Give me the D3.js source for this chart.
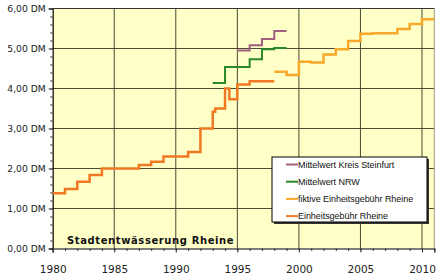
<!DOCTYPE html>
<html>
<head>
<meta charset="utf-8">
<script src="https://cdn.jsdelivr.net/npm/d3@7"></script>
<style>
  body { margin: 0; background: #fff; }
  svg { display: block; }
</style>
</head>
<body>
<svg id="chart" width="440" height="280"></svg>
<script>
// Daten (Stufen: Jahr des Wechsels -> Wert in DM)
const rheineYears   = [1980, 1981, 1982, 1983, 1984, 1987, 1988, 1989, 1991, 1992, 1993, 1993.2, 1994, 1994.35, 1995, 1996, 1998];
const rheineValues  = [1.38, 1.49, 1.67, 1.84, 2.00, 2.09, 2.17, 2.30, 2.41, 3.00, 3.42, 3.50, 4.00, 3.73, 4.10, 4.18, 4.18];

const fiktivYears   = [1998, 1999, 2000, 2001, 2002, 2003, 2004, 2005, 2006, 2008, 2009, 2010, 2011];
const fiktivValues  = [4.42, 4.34, 4.67, 4.65, 4.85, 4.98, 5.19, 5.37, 5.38, 5.49, 5.61, 5.73, 5.73];

const nrwYears      = [1993, 1994, 1996, 1997, 1998, 1999];
const nrwValues     = [4.14, 4.54, 4.73, 4.98, 5.01, 5.01];

const steinfurtYears  = [1995, 1996, 1997, 1998, 1999];
const steinfurtValues = [4.95, 5.08, 5.24, 5.44, 5.44];

const xTicks = [1980, 1985, 1990, 1995, 2000, 2005, 2010];
const yTicks = [0, 1, 2, 3, 4, 5, 6];

const legendLabels = ["Mittelwert Kreis Steinfurt", "Mittelwert NRW", "fiktive Einheitsgebühr Rheine", "Einheitsgebühr Rheine"];
const colors = { steinfurt: "#a0607e", nrw: "#2a8a2a", fiktiv: "#f8a82a", rheine: "#f07822" };

const svg = d3.select("#chart");

const x = d3.scaleLinear().domain([1980, 2011]).range([52.7, 434.3]);
const y = d3.scaleLinear().domain([0, 6]).range([248.5, 8.5]);

// Plotfläche
svg.append("rect")
    .attr("x", x(1980)).attr("y", y(6))
    .attr("width", x(2011) - x(1980)).attr("height", y(0) - y(6))
    .attr("fill", "#ffffc8");

// Gitter
svg.append("g")
    .selectAll("line")
    .data(xTicks.slice(1))
    .join("line")
    .attr("x1", d => x(d)).attr("x2", d => x(d))
    .attr("y1", y(6)).attr("y2", y(0))
    .attr("stroke", "#4a4a35").attr("stroke-width", 1);

svg.append("g")
    .selectAll("line")
    .data(yTicks.slice(1))
    .join("line")
    .attr("x1", x(1980)).attr("x2", x(2011))
    .attr("y1", d => y(d)).attr("y2", d => y(d))
    .attr("stroke", "#4a4a35").attr("stroke-width", 1);

// rechter Rand
svg.append("line")
    .attr("x1", x(2011)).attr("x2", x(2011))
    .attr("y1", y(6)).attr("y2", y(0))
    .attr("stroke", "#9a9a80");

// Achsen
const fmtDM = d => d3.format(".2f")(d).replace(".", ",") + " DM";

const yAxis = svg.append("g")
    .attr("transform", `translate(${x(1980)},0)`)
    .call(d3.axisLeft(y).tickValues(yTicks).tickFormat(fmtDM).tickSize(4).tickPadding(3));
svg.append("g")
    .attr("transform", `translate(${x(1980)},0)`)
    .call(d3.axisLeft(y).tickValues(d3.range(0, 6.01, 0.2)).tickFormat("").tickSize(2.5))
    .select(".domain").remove();

const xAxis = svg.append("g")
    .attr("transform", `translate(0,${y(0)})`)
    .call(d3.axisBottom(x).tickValues(xTicks).tickFormat(d3.format("d")).tickSize(4).tickPadding(13));
svg.append("g")
    .attr("transform", `translate(0,${y(0)})`)
    .call(d3.axisBottom(x).tickValues(d3.range(1980, 2012, 1)).tickFormat("").tickSize(2.5))
    .select(".domain").remove();

svg.selectAll(".domain").attr("stroke", "#000").attr("stroke-width", 1.2);
svg.selectAll(".tick line").attr("stroke", "#333");
yAxis.selectAll("text").attr("font-family", "DejaVu Sans").attr("font-size", 9.2).attr("fill", "#222");
xAxis.selectAll("text").attr("font-family", "DejaVu Sans").attr("font-size", 10.5).attr("fill", "#222");

// oberer Rand
svg.append("line")
    .attr("x1", x(1980)).attr("x2", x(2011))
    .attr("y1", y(6)).attr("y2", y(6))
    .attr("stroke", "#333");

// Linien
const line = d3.line()
    .x(d => x(d[0]))
    .y(d => y(d[1]))
    .curve(d3.curveStepAfter);

const series = [
    { years: rheineYears, values: rheineValues, color: colors.rheine, w: 2.5 },
    { years: fiktivYears, values: fiktivValues, color: colors.fiktiv, w: 2.5 },
    { years: nrwYears, values: nrwValues, color: colors.nrw, w: 2 },
    { years: steinfurtYears, values: steinfurtValues, color: colors.steinfurt, w: 2 }
];

series.forEach(s => {
    svg.append("path")
        .datum(d3.zip(s.years, s.values))
        .attr("d", line)
        .attr("fill", "none")
        .attr("stroke", s.color)
        .attr("stroke-width", s.w);
});

// Titel im Diagramm
svg.append("text")
    .attr("x", 67).attr("y", 244)
    .attr("font-family", "DejaVu Sans")
    .attr("font-weight", "bold")
    .attr("font-size", 10)
    .attr("letter-spacing", 0.6)
    .attr("fill", "#111")
    .text("Stadtentwässerung Rheine");

// Legende
const lg = svg.append("g").attr("transform", "translate(272,157)");
lg.append("rect")
    .attr("x", 2).attr("y", 2).attr("width", 155).attr("height", 65)
    .attr("fill", "#333");
lg.append("rect")
    .attr("x", 0).attr("y", 0).attr("width", 155).attr("height", 65)
    .attr("fill", "#fff").attr("stroke", "#000").attr("stroke-width", 1);

const legendColors = [colors.steinfurt, colors.nrw, colors.fiktiv, colors.rheine];
const rows = lg.selectAll("g.row")
    .data(legendLabels)
    .join("g")
    .attr("transform", (d, i) => `translate(0,${7.5 + i * 17.2})`);
rows.append("line")
    .attr("x1", 14).attr("x2", 26)
    .attr("stroke", (d, i) => legendColors[i])
    .attr("stroke-width", 2);
rows.append("text")
    .attr("x", 26).attr("y", 3.2)
    .attr("font-family", "Liberation Sans")
    .attr("font-size", 9)
    .attr("letter-spacing", -0.05)
    .attr("fill", "#111")
    .text(d => d);
</script>
</body>
</html>
